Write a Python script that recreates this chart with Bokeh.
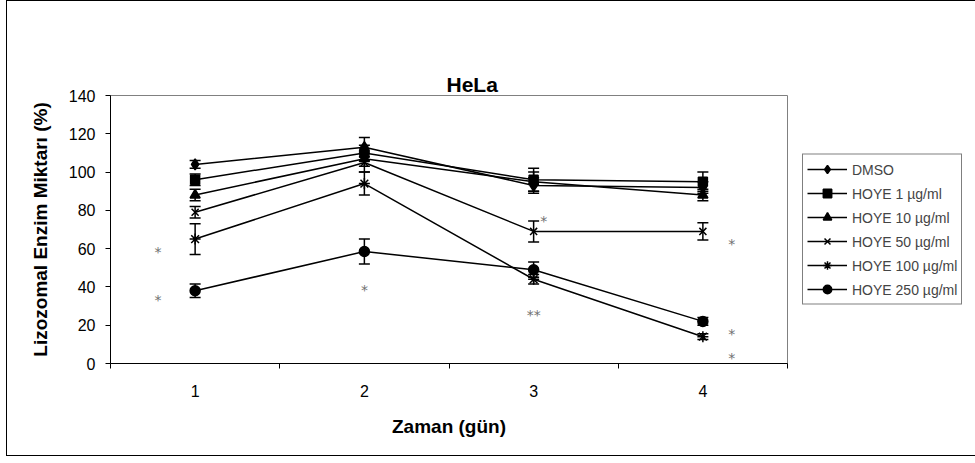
from bokeh.plotting import figure
from bokeh.models import (ColumnDataSource, Whisker, TeeHead, Legend, LegendItem,
                          FixedTicker, Range1d, LinearAxis)
from bokeh.core.properties import value
from bokeh.embed import file_html
from bokeh.resources import INLINE

# ---- data ----
days = [1, 2, 3, 4]
day_labels = ["1", "2", "3", "4"]
series_names = ["DMSO", "HOYE 1 µg/ml", "HOYE 10 µg/ml", "HOYE 50 µg/ml",
                "HOYE 100 µg/ml", "HOYE 250 µg/ml"]
dmso = [104, 113, 93, 92]
hoye1 = [96, 110, 96, 95]
hoye10 = [88, 107, 95, 88]
hoye50 = [79, 105, 69, 69]
hoye100 = [65, 94, 44, 14]
hoye250 = [38, 58.5, 49, 22]
err_dmso = [2, 5, 4, 3]
err_hoye1 = [3, 4, 6, 5]
err_hoye10 = [3, 4, 5, 3]
err_hoye50 = [3, 5, 5.5, 4.5]
err_hoye100 = [8, 6, 2.5, 1.5]
err_hoye250 = [3.5, 6.5, 4, 2]
markers = ["diamond", "square", "triangle", "x", "asterisk", "circle"]
marker_sizes = [11, 9, 10, 10, 11, 10]

sig_x = [0.78, 0.78, 2.0, 3.06, 3.0, 4.17, 4.17, 4.17]
sig_y = [60, 35, 40, 76, 27, 64, 17, 4.5]
sig_text = ["*", "*", "*", "*", "**", "*", "*", "*"]

y_ticks = [0, 20, 40, 60, 80, 100, 120, 140]

all_vals = [dmso, hoye1, hoye10, hoye50, hoye100, hoye250]
all_errs = [err_dmso, err_hoye1, err_hoye10, err_hoye50, err_hoye100, err_hoye250]

FONT = "Liberation Sans"

p = figure(frame_width=677, frame_height=268, output_backend="svg", toolbar_location=None,
           x_range=Range1d(0.5, 4.5), y_range=Range1d(0, 140),
           min_border_left=103, min_border_right=150, min_border_top=94,
           min_border_bottom=92)
p.styles = {"border-left": "1px solid #000", "border-top": "1px solid #000",
            "border-bottom": "1px solid #000", "margin-left": "6px"}

p.title.text = "HeLa"
p.title.text_font = FONT
p.title.text_font_size = "21px"
p.title.text_font_style = "bold"
p.title.text_color = "black"
p.title.align = "left"
p.title.offset = 336
p.title.standoff = 0

# an empty axis above the plot area acts as a spacer below the title
spacer = LinearAxis(ticker=FixedTicker(ticks=[], minor_ticks=[]),
                    axis_line_color=None, major_tick_line_color=None,
                    minor_tick_line_color=None, major_tick_out=52, major_tick_in=0,
                    minor_tick_out=0, minor_tick_in=0, major_label_standoff=0)
p.add_layout(spacer, "above")

p.xgrid.visible = False
p.ygrid.visible = False
p.outline_line_color = "#808080"
p.outline_line_width = 1

# axes
xax = p.below[0]
xax.ticker = FixedTicker(ticks=days, minor_ticks=[0.5, 1.5, 2.5, 3.5, 4.5])
xax.major_label_overrides = {d: l for d, l in zip(days, day_labels)}
xax.major_tick_line_color = None
xax.major_tick_out = 0
xax.major_tick_in = 0
xax.minor_tick_out = 5
xax.minor_tick_in = 0
xax.minor_tick_line_color = "black"
xax.major_label_standoff = 16
xax.axis_label = "Zaman (gün)"
xax.axis_label_standoff = 16

yax = p.left[0]
yax.ticker = FixedTicker(ticks=y_ticks, minor_ticks=[])
yax.major_tick_out = 5
yax.major_tick_in = 0
yax.major_label_standoff = 10
yax.axis_label = "Lizozomal Enzim Miktarı (%)"
yax.axis_label_standoff = 15

for ax in (xax, yax):
    ax.axis_line_color = "black"
    ax.axis_line_width = 1
    ax.major_label_text_font = FONT
    ax.major_label_text_font_size = "16px"
    ax.major_label_text_color = "black"
    ax.axis_label_text_font = FONT
    ax.axis_label_text_font_size = "19px"
    ax.axis_label_text_font_style = "bold"
    ax.axis_label_text_color = "black"

items = []
for name, vals, errs, mk, ms in zip(series_names, all_vals, all_errs, markers, marker_sizes):
    src = ColumnDataSource(dict(
        x=days, y=vals,
        upper=[v + e for v, e in zip(vals, errs)],
        lower=[v - e for v, e in zip(vals, errs)],
    ))
    w = Whisker(source=src, base="x", upper="upper", lower="lower",
                line_color="black", line_width=1.5,
                upper_head=TeeHead(size=11, line_color="black", line_width=1.5),
                lower_head=TeeHead(size=11, line_color="black", line_width=1.5))
    p.add_layout(w)
    r_line = p.line("x", "y", source=src, line_color="black", line_width=1.5)
    r_mk = p.scatter("x", "y", source=src, marker=mk, size=ms,
                     fill_color="black", line_color="black", line_width=1.5)
    items.append(LegendItem(label=name, renderers=[r_line, r_mk]))

p.text(x=sig_x, y=sig_y, text=sig_text, text_font=value("DejaVu Sans"),
       text_font_size="14px", text_color="#707070", text_align="center",
       text_baseline="middle", y_offset=3)

legend = Legend(items=items, location="center_left")
legend.label_text_font = FONT
legend.label_text_font_size = "14px"
legend.label_height = 21
legend.glyph_height = 21
legend.glyph_width = 40
legend.label_standoff = 5
legend.spacing = 3
legend.padding = 4
legend.margin = 15
legend.border_line_color = "black"
legend.border_line_width = 1
legend.background_fill_alpha = 1
p.add_layout(legend, "right")

open("out.html", "w").write(file_html(p, INLINE))
